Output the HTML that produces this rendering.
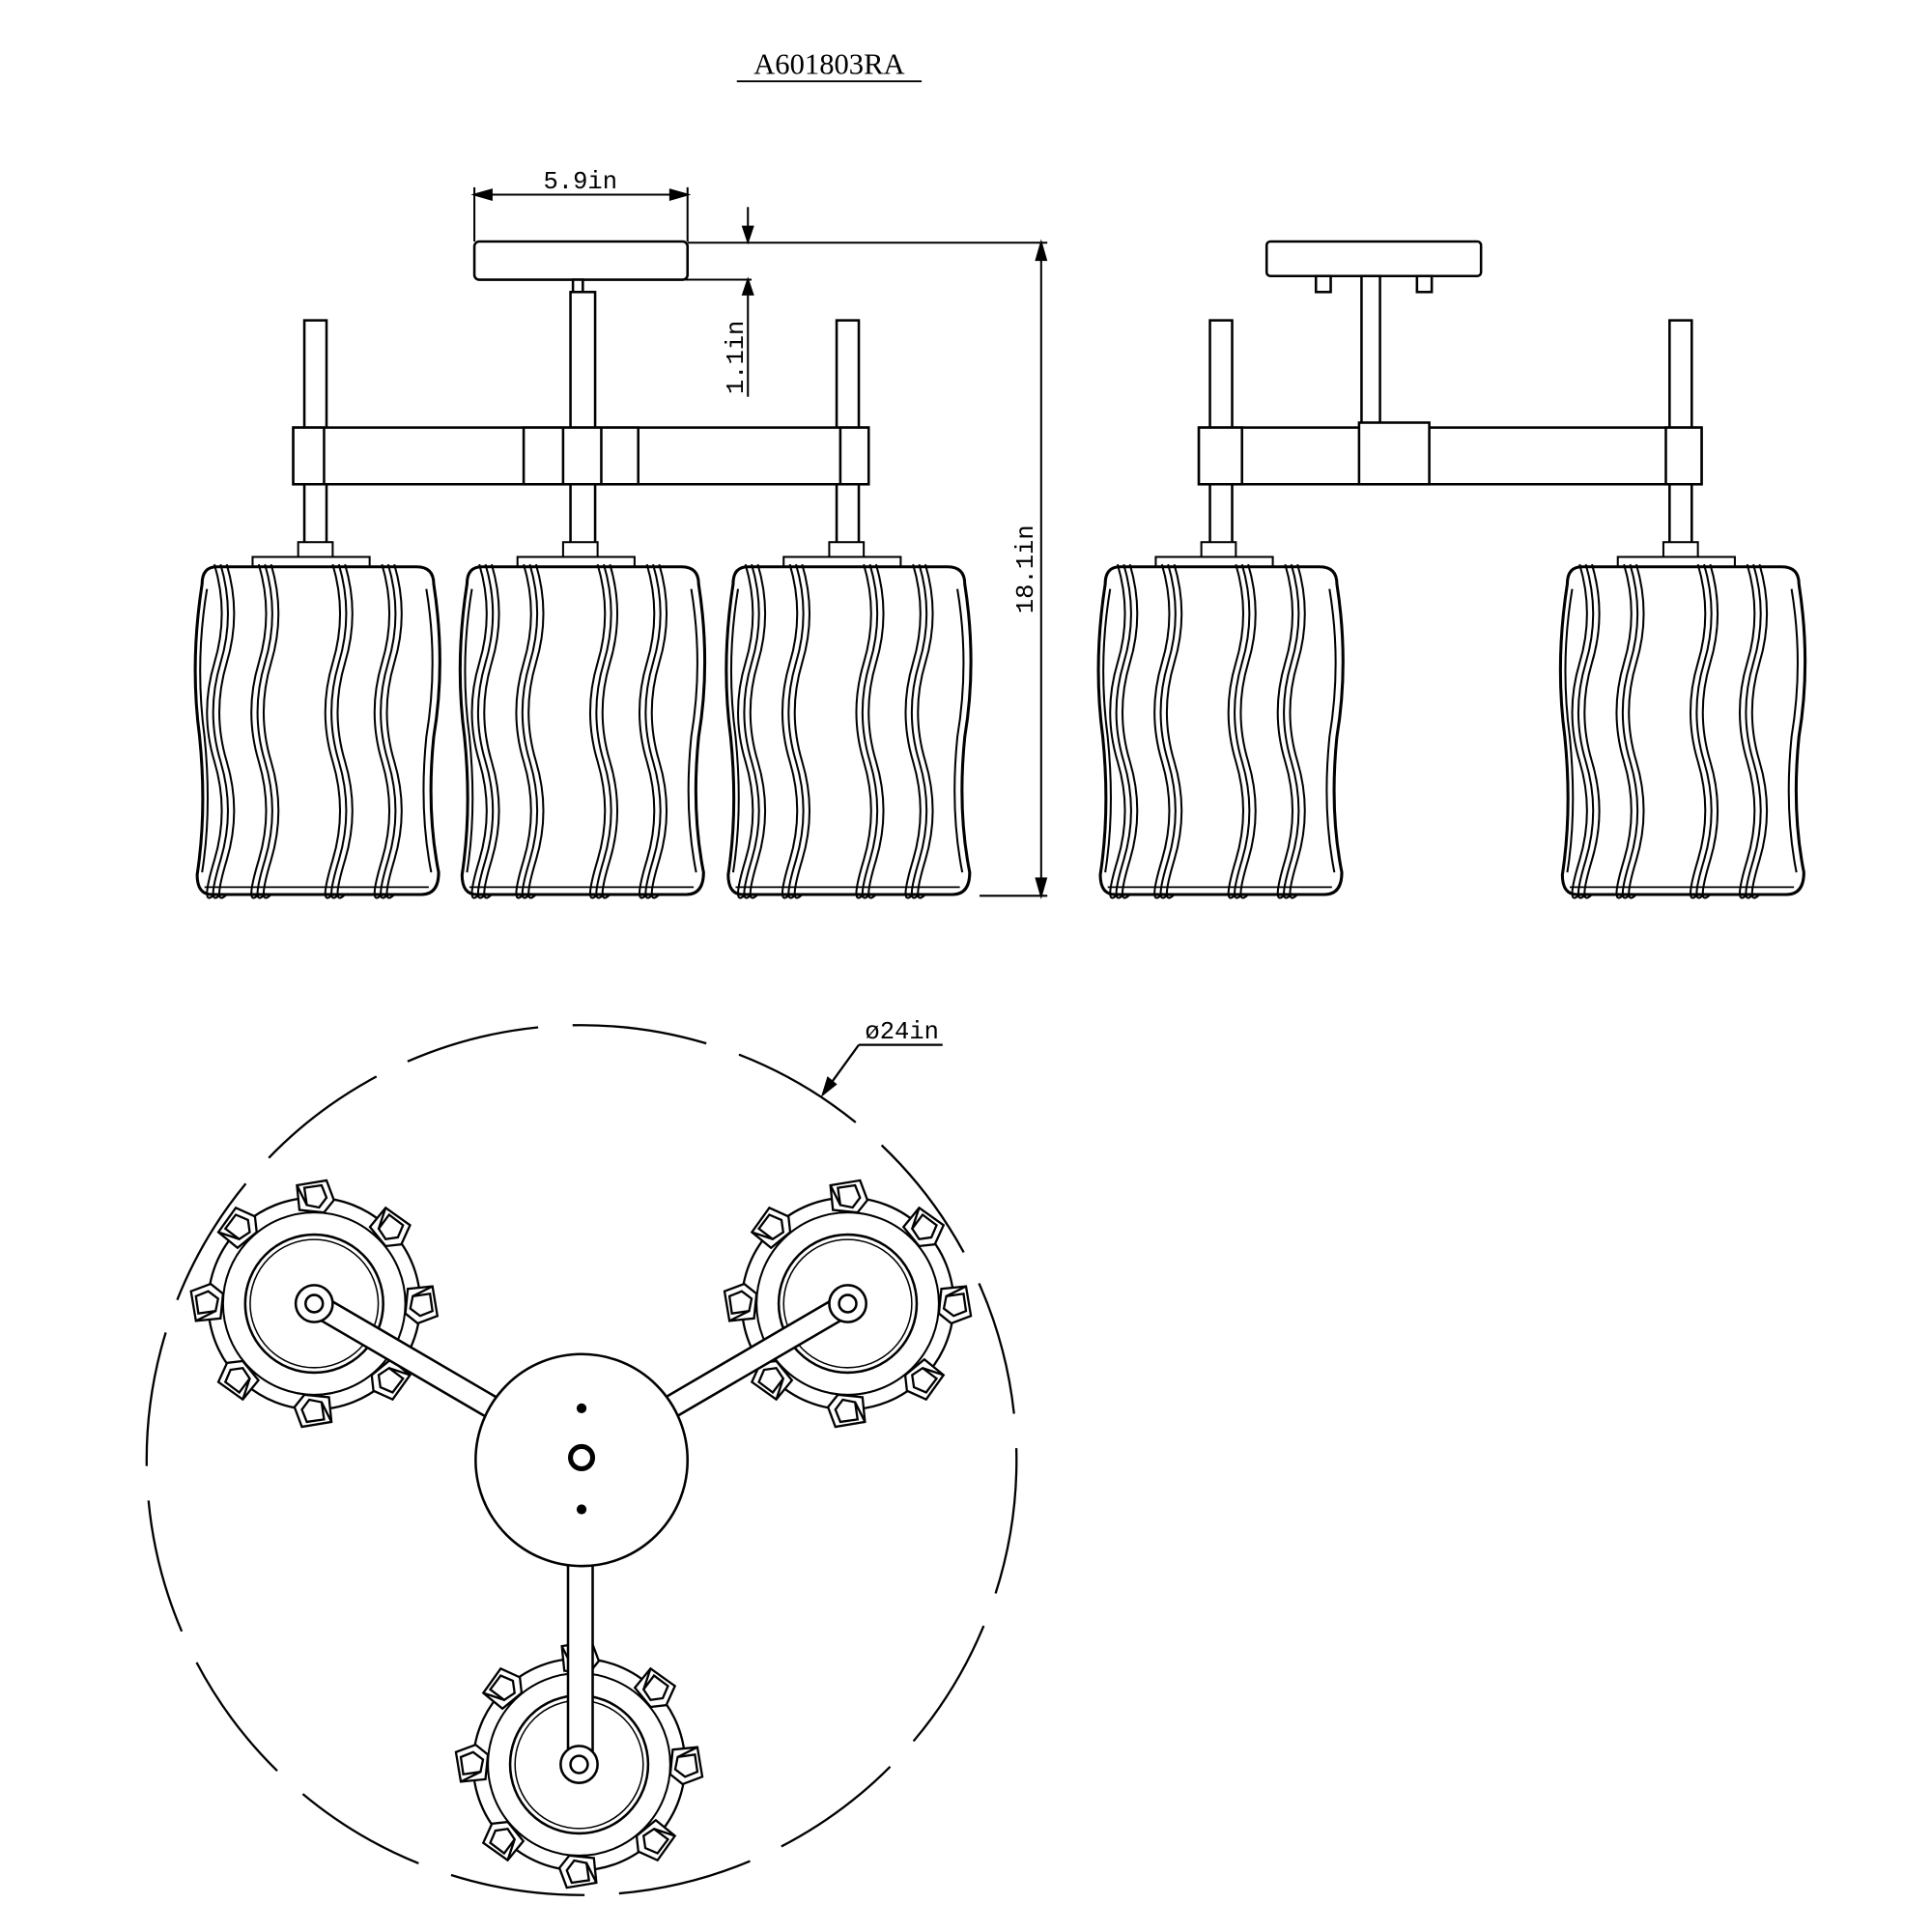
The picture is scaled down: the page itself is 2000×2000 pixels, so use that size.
<!DOCTYPE html>
<html><head><meta charset="utf-8"><style>html,body{margin:0;padding:0;background:#fff}svg{display:block}</style></head>
<body>
<svg width="2000" height="2000" viewBox="0 0 1568 1568" xmlns="http://www.w3.org/2000/svg" font-family="Liberation Mono, monospace">
<defs>
<g id="strand" fill="none" stroke="#000" stroke-width="1.6">
<path d="M0,0 Q12,40 0,80 T0,160 T0,240 T0,268"/>
<path d="M5,0 Q17,40 5,80 T5,160 T5,240 T5,268"/>
<path d="M10,0 Q22,40 10,80 T10,160 T10,240 T10,268"/>
</g>
<g id="shade">
<rect x="84" y="-18" width="28" height="12" fill="#fff" stroke="#000" stroke-width="1.6"/>
<rect x="47" y="-6" width="95" height="8" fill="#fff" stroke="#000" stroke-width="1.6"/>
<path d="M18,2 L180,2 Q194,2 194,16 Q204,80 194,140 Q188,200 198,250 Q198,268 184,268 L14,268 Q2,268 2,252 Q10,200 4,140 Q-4,80 6,16 Q6,2 18,2 Z" fill="#fff" stroke="#000" stroke-width="2.4"/>
<path d="M10,20 Q0,80 8,140 Q14,200 6,250" fill="none" stroke="#000" stroke-width="1.6"/>
<path d="M188,20 Q198,80 188,140 Q182,200 192,250" fill="none" stroke="#000" stroke-width="1.6"/>
<use href="#strand" x="16" y="0"/>
<use href="#strand" x="52" y="0"/>
<use href="#strand" x="112" y="0"/>
<use href="#strand" x="152" y="0"/>
<line x1="8" y1="262" x2="190" y2="262" stroke="#000" stroke-width="1.4"/>
</g>
<g id="clip" fill="#fff" stroke="#000" stroke-width="1.8">
<path d="M-14,-10 L10,-14 L16,2 L8,12 L-12,10 Z"/>
<path d="M-8,-8 L6,-10 L10,0 L4,8 L-6,6 Z"/>
<line x1="-14" y1="-10" x2="-6" y2="6"/>
</g>
<g id="hub">
<circle r="86" fill="#fff" stroke="#000" stroke-width="1.8"/>
<circle r="74" fill="none" stroke="#000" stroke-width="1.6"/>
<circle r="56" fill="none" stroke="#000" stroke-width="2"/>
<circle r="52" fill="none" stroke="#000" stroke-width="1.2"/>
<use href="#clip" transform="rotate(0) translate(0,-86)"/>
<use href="#clip" transform="rotate(45) translate(0,-86)"/>
<use href="#clip" transform="rotate(90) translate(0,-86)"/>
<use href="#clip" transform="rotate(135) translate(0,-86)"/>
<use href="#clip" transform="rotate(180) translate(0,-86)"/>
<use href="#clip" transform="rotate(225) translate(0,-86)"/>
<use href="#clip" transform="rotate(270) translate(0,-86)"/>
<use href="#clip" transform="rotate(315) translate(0,-86)"/>
</g>
</defs>

<text x="673" y="60" font-size="24" text-anchor="middle" font-family="Liberation Serif, serif">A601803RA</text>
<line x1="598" y1="66" x2="748" y2="66" stroke="#000" stroke-width="1.5"/>

<g stroke="#000" stroke-width="1.6" fill="none">
<line x1="385" y1="152" x2="385" y2="196"/><line x1="558" y1="152" x2="558" y2="196"/>
<line x1="385" y1="158" x2="558" y2="158"/>
<path d="M385,158 l14,-4 v8 z M558,158 l-14,-4 v8 z" fill="#000"/>
<line x1="558" y1="197" x2="850" y2="197"/>
<line x1="556" y1="227" x2="610" y2="227"/>
<line x1="607" y1="168" x2="607" y2="196"/><path d="M607,196 l-4,-12 h8 z" fill="#000"/>
<line x1="607" y1="227" x2="607" y2="322"/><path d="M607,227 l-4,12 h8 z" fill="#000"/>
<line x1="845" y1="197" x2="845" y2="727"/>
<path d="M845,197 l-4,14 h8 z M845,727 l-4,-14 h8 z" fill="#000"/>
<line x1="795" y1="727" x2="850" y2="727"/>
</g>
<text x="471" y="153" font-size="20" text-anchor="middle">5.9in</text>
<text transform="translate(603,290) rotate(-90)" font-size="20" text-anchor="middle">1.1in</text>
<text transform="translate(838,462) rotate(-90)" font-size="20" text-anchor="middle">18.1in</text>

<g stroke="#000" stroke-width="2" fill="#fff">
<rect x="385" y="196" width="173" height="31" rx="4"/>
<rect x="465" y="227" width="8" height="10"/>
<rect x="463" y="237" width="20" height="111"/>
<rect x="247" y="260" width="18" height="88"/>
<rect x="679" y="260" width="18" height="88"/>
<rect x="238" y="347" width="467" height="46"/>
<rect x="238" y="347" width="25" height="46"/>
<rect x="682" y="347" width="23" height="46"/>
<rect x="425" y="347" width="93" height="46"/>
<line x1="457" y1="347" x2="457" y2="393"/><line x1="488" y1="347" x2="488" y2="393"/>
<rect x="247" y="393" width="18" height="48"/>
<rect x="463" y="393" width="20" height="48"/>
<rect x="679" y="393" width="18" height="48"/>
</g>
<g stroke="#000" stroke-width="2" fill="#fff">
<rect x="1028" y="196" width="174" height="28" rx="3"/>
<rect x="1068" y="224" width="12" height="13"/>
<rect x="1150" y="224" width="12" height="13"/>
<rect x="1105" y="224" width="15" height="123"/>
<rect x="982" y="260" width="18" height="88"/>
<rect x="1355" y="260" width="18" height="88"/>
<rect x="973" y="347" width="408" height="46"/>
<rect x="973" y="347" width="35" height="46"/>
<rect x="1352" y="347" width="29" height="46"/>
<rect x="1103" y="343" width="57" height="50"/>
<rect x="982" y="393" width="18" height="48"/>
<rect x="1355" y="393" width="18" height="48"/>
</g>

<use href="#shade" x="158" y="458"/>
<use href="#shade" x="373" y="458"/>
<use href="#shade" x="589" y="458"/>
<use href="#shade" x="891" y="458"/>
<use href="#shade" x="1266" y="458"/>

<circle cx="472" cy="1185" r="353" fill="none" stroke="#000" stroke-width="1.8" stroke-dasharray="110,28"/>
<g stroke="#000" stroke-width="1.8">
<line x1="668" y1="888" x2="697" y2="848"/><line x1="697" y1="848" x2="765" y2="848"/>
<path d="M668,888 l4,-13 l6,5 z" fill="#000"/>
</g>
<text x="732" y="843" font-size="20" text-anchor="middle">ø24in</text>

<use href="#hub" x="255" y="1058"/>
<use href="#hub" x="688" y="1058"/>
<use href="#hub" x="470" y="1432"/>
<g stroke="#000" stroke-width="2" fill="#fff">
<rect x="0" y="-9" width="240" height="18" transform="translate(255,1058) rotate(30.3)"/>
<rect x="0" y="-9" width="240" height="18" transform="translate(688,1058) rotate(149.7)"/>
<rect x="461" y="1260" width="20" height="172"/>
<circle cx="472" cy="1185" r="86"/>
<circle cx="255" cy="1058" r="15"/><circle cx="255" cy="1058" r="7"/>
<circle cx="688" cy="1058" r="15"/><circle cx="688" cy="1058" r="7"/>
<circle cx="470" cy="1432" r="15"/><circle cx="470" cy="1432" r="7"/>
</g>
<circle cx="472" cy="1143" r="4" fill="#000"/>
<circle cx="472" cy="1225" r="4" fill="#000"/>
<circle cx="472" cy="1183" r="9" fill="none" stroke="#000" stroke-width="4"/>
</svg>
</body></html>
